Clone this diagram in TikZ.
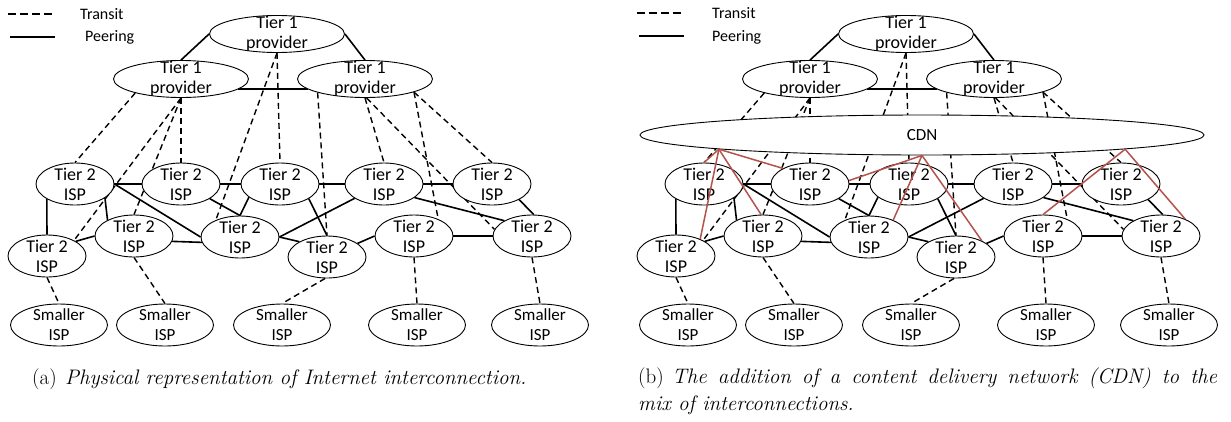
\documentclass[tikz,border=0pt]{standalone}
\usepackage{fontspec}
\newfontfamily\calibri{Carlito}
\usetikzlibrary{shapes.geometric}
\pgfdeclarelayer{background}
\pgfdeclarelayer{foreground}
\pgfsetlayers{background,main,foreground}
\definecolor{cdnred}{RGB}{180,82,76}

\tikzset{
  netfont/.style={font=\calibri\fontsize{16}{20}\selectfont},
  ovaltext/.style={font=\calibri\fontsize{18}{20}\selectfont, align=center, inner sep=0pt},
  smalltext/.style={font=\calibri\fontsize{17}{20}\selectfont, align=center, inner sep=0pt},
  oval/.style={ellipse, draw=black, line width=0.9pt, fill=white, inner sep=0pt},
  tierone/.style={oval, minimum width=135pt, minimum height=37pt,
    label={[ovaltext]center:{Tier 1\\provider}}},
  tiertwo/.style={oval, minimum width=78pt, minimum height=42pt,
    label={[ovaltext]center:{Tier 2\\ISP}}},
  smallisp/.style={oval, minimum width=97pt, minimum height=42pt,
    label={[smalltext]center:{Smaller\\ISP}}},
  transit/.style={draw=black, line width=1.4pt, dash pattern=on 6pt off 4pt},
  peering/.style={draw=black, line width=1.6pt},
  legdash/.style={draw=black, line width=1.4pt, dash pattern=on 8pt off 4pt},
  legsolid/.style={draw=black, line width=2pt},
  cdnlink/.style={draw=cdnred, line width=1.5pt},
  capfont/.style={font=\fontsize{21}{27}\selectfont, inner sep=0pt},
}

% the interconnection network: tier 1, tier 2 and smaller ISPs
\newcommand\netdiagram{%
  \node[tierone] (T1c) at (277,34) {};
  \node[tierone] (T1L) at (181,79) {};
  \node[tierone] (T1R) at (365,79) {};
  \node[tiertwo] (A1) at (75,184) {};
  \node[tiertwo] (A2) at (181,184) {};
  \node[tiertwo] (A3) at (280,184) {};
  \node[tiertwo] (A4) at (384,184) {};
  \node[tiertwo] (A5) at (492,184) {};
  \node[tiertwo] (B1) at (47,256) {};
  \node[tiertwo] (B2) at (134,236) {};
  \node[tiertwo] (B3) at (240,237) {};
  \node[tiertwo] (B4) at (327,257) {};
  \node[tiertwo] (B5) at (414,236) {};
  \node[tiertwo] (B6) at (532,236) {};
  \node[smallisp] (S1) at (59,325) {};
  \node[smallisp] (S2) at (165,325) {};
  \node[smallisp] (S3) at (282,325) {};
  \node[smallisp] (S4) at (417,325) {};
  \node[smallisp] (S5) at (540,325) {};
  \begin{pgfonlayer}{background}
    % peering links
    \path[peering] (T1L.north) -- (T1c.west);
    \path[peering] (T1c.east) -- (T1R.north);
    \path[peering] (T1L.-10) -- (T1R.190);
    \path[peering] (A1.east) -- (A2.west);
    \path[peering] (A2.east) -- (A3.west);
    \path[peering] (A3.east) -- (A4.west);
    \path[peering] (A4.east) -- (A5.west);
    \path[peering] (A1.208) -- (B1.north);
    \path[peering] (A1.east) -- (B3.west);
    \path[peering] (A1.-25) -- (B2.149);
    \path[peering] (B2.west) -- (B1.27);
    \path[peering] (B2.-8) -- (B3.188);
    \path[peering] (A2.-27) -- (B3.north);
    \path[peering] (A3.203) -- (B3.north);
    \path[peering] (B3.east) -- (A4.206);
    \path[peering] (B3.east) -- (B4.151);
    \path[peering] (A3.-27) -- (B4.north);
    \path[peering] (B4.24) -- (B5.west);
    \path[peering] (B5.east) -- (B6.west);
    \path[peering] (A4.-24) -- (B6.151);
    \path[peering] (A5.-30) -- (B6.85);
    % transit links
    \path[transit] (T1L.197) -- (A1.north);
    \path[transit] (T1L.south) -- (B1.30);
    \path[transit] (T1L.south) -- (B2.north);
    \path[transit] (T1L.south) -- (A2.north);
    \path[transit] (T1c.south) -- (B3.145);
    \path[transit] (T1c.south) -- (A3.north);
    \path[transit] (T1R.196) -- (B4.north);
    \path[transit] (T1R.south) -- (A4.north);
    \path[transit] (T1R.-85) -- (B6.170);
    \path[transit] (T1R.-15) -- (B5.35);
    \path[transit] (T1R.-15) -- (A5.north);
    \path[transit] (B1.south) -- (S1.north);
    \path[transit] (B2.south) -- (S2.north);
    \path[transit] (B4.265) -- (S3.north);
    \path[transit] (B5.south) -- (S4.north);
    \path[transit] (B6.south) -- (S5.north);
  \end{pgfonlayer}
}

\begin{document}
\begin{tikzpicture}[x=1pt, y=-1pt]
\useasboundingbox (0,0) rectangle (1231,421);

% legend, left panel
\coordinate (la-d1) at (8,14);  \coordinate (la-d2) at (55,14);
\coordinate (la-s1) at (10,37); \coordinate (la-s2) at (55,37);
\path[legdash] (la-d1) -- (la-d2);
\path[legsolid] (la-s1) -- (la-s2);
\node[netfont, anchor=west, inner sep=0pt] (la-transit) at (80,14) {Transit};
\node[netfont, anchor=west, inner sep=0pt] (la-peering) at (85,37) {Peering};

% legend, right panel
\coordinate (lb-d1) at (637,13); \coordinate (lb-d2) at (684,13);
\coordinate (lb-s1) at (639,36); \coordinate (lb-s2) at (684,36);
\path[legdash] (lb-d1) -- (lb-d2);
\path[legsolid] (lb-s1) -- (lb-s2);
\node[netfont, anchor=west, inner sep=0pt] (lb-transit) at (712,13) {Transit};
\node[netfont, anchor=west, inner sep=0pt] (lb-peering) at (712,37) {Peering};

% (a) physical interconnection
\begin{scope}[name prefix=a-]
  \netdiagram
\end{scope}

% (b) the same network with a CDN
\begin{scope}[xshift=629pt, name prefix=b-]
  \netdiagram
  \node[oval, font=\calibri\fontsize{17}{20}\selectfont, minimum width=564pt, minimum height=40pt] (CDN) at (293,135) {CDN};
  \begin{pgfonlayer}{foreground}
    \path[cdnlink] (CDN.184) -- (A1.north);
    \path[cdnlink] (CDN.184) -- (B1.35);
    \path[cdnlink] (CDN.184) -- (B2.95);
    \path[cdnlink] (CDN.184) -- (A2.150);
    \path[cdnlink] (CDN.south) -- (A2.5);
    \path[cdnlink] (CDN.south) -- (B3.35);
    \path[cdnlink] (CDN.south) -- (B4.32);
    \path[cdnlink] (CDN.-4) -- (B5.north);
    \path[cdnlink] (CDN.-4) -- (B6.35);
  \end{pgfonlayer}
\end{scope}

% captions
\node[capfont, anchor=base west] (capA) at (32,384)
  {(a)\hspace{0.4em}\textit{Physical representation of Internet interconnection.}};
\node[capfont, anchor=base west] (capB1) at (638,383)
  {\makebox[579pt][s]{(b)\hspace{0.4em}\textit{The addition of a content delivery network (CDN) to the}}};
\node[capfont, anchor=base west] (capB2) at (638,410)
  {\textit{mix of interconnections.}};
\end{tikzpicture}
\end{document}
